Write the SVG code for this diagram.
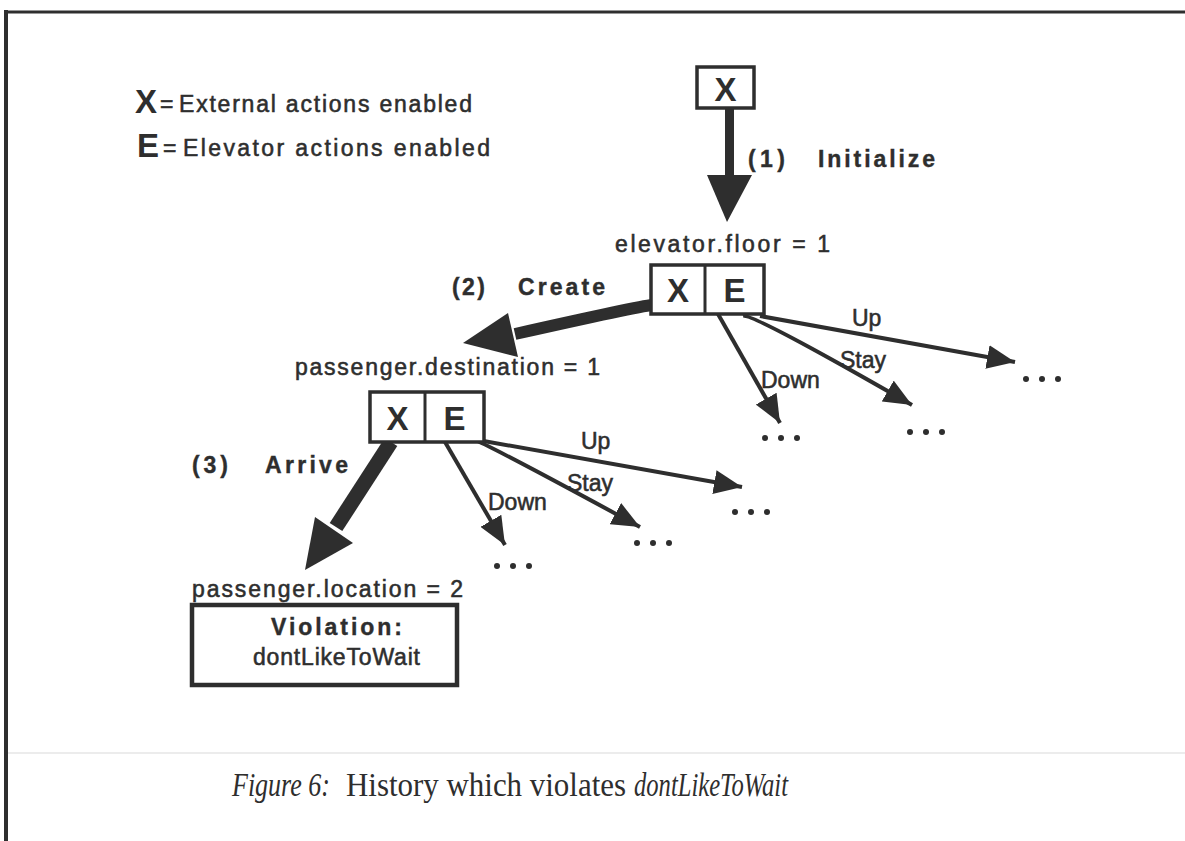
<svg xmlns="http://www.w3.org/2000/svg" width="1185" height="841" viewBox="0 0 1185 841">
  <defs>
    <style>
      .ink { fill: #2e2e2e; }
      .lbl { font-family: "Liberation Sans", Arial, Helvetica, sans-serif; font-size: 23px; fill: #2e2e2e; stroke: #2e2e2e; stroke-width: 0.55; }
      .bold { font-weight: bold; stroke-width: 0.4; }
      .key { font-family: "Liberation Sans", Arial, Helvetica, sans-serif; font-weight: bold; font-size: 33px; fill: #2e2e2e; }
      .box { fill: #ffffff; stroke: #2e2e2e; stroke-width: 3.5; }
      .thin { fill: none; stroke: #2e2e2e; stroke-width: 4; marker-end: url(#head); }
      .dots { fill: #2e2e2e; }
      .cap { font-family: "Liberation Serif", "Times New Roman", serif; font-size: 33px; fill: #2e2e2e; }
    </style>
    <marker id="head" viewBox="0 0 7 6" refX="7" refY="3" markerWidth="7" markerHeight="6" orient="auto" markerUnits="strokeWidth">
      <path d="M0,0 L7,3 L0,6 Z" fill="#2e2e2e"/>
    </marker>
    <g id="ellipsis">
      <circle cx="3" cy="0" r="3"/>
      <circle cx="19" cy="0" r="3"/>
      <circle cx="35" cy="0" r="3"/>
    </g>
  </defs>

  <rect width="1185" height="841" fill="#ffffff"/>

  <!-- page frame -->
  <g id="frame">
    <line x1="4" y1="12" x2="1185" y2="12" stroke="#2e2e2e" stroke-width="3"/>
    <line x1="6" y1="10" x2="6" y2="841" stroke="#2e2e2e" stroke-width="4"/>
    <line x1="8" y1="753" x2="1185" y2="753" stroke="#e6e6e6" stroke-width="1.5"/>
  </g>

  <!-- key -->
  <g id="legend">
    <text class="key" x="135" y="113" font-size="29">X</text>
    <text class="lbl" x="160" y="112" font-size="17">=</text>
    <text class="lbl" x="179" y="112" textLength="293" lengthAdjust="spacing">External actions enabled</text>
    <text class="key" x="137" y="157" font-size="29">E</text>
    <text class="lbl" x="163" y="156" font-size="17">=</text>
    <text class="lbl" x="183" y="156" textLength="307" lengthAdjust="spacing">Elevator actions enabled</text>
  </g>

  <!-- transitions -->
  <g id="connectors">
    <!-- (1) Initialize -->
    <g id="edge-initialize" class="ink">
      <rect x="725" y="108" width="9" height="69"/>
      <polygon points="707,175 752,175 727,222"/>
    </g>
    <!-- (2) Create -->
    <g id="edge-create" class="ink">
      <path d="M652,305 Q640,306 515,334" fill="none" stroke="#2e2e2e" stroke-width="12"/>
      <polygon points="463,343 508,313 518,357"/>
    </g>
    <!-- (3) Arrive -->
    <g id="edge-arrive" class="ink">
      <path d="M391,442 L336,527" fill="none" stroke="#2e2e2e" stroke-width="15"/>
      <polygon points="305,570 315,517 353,543"/>
    </g>

    <!-- elevator moves from the first state -->
    <path class="thin" d="M718,314 L780,423"/>
    <path class="thin" d="M743,316 Q752,313 912,405"/>
    <path class="thin" d="M760,316 L1015,362"/>

    <!-- elevator moves from the second state -->
    <path class="thin" d="M445,442 L505,545"/>
    <path class="thin" d="M474,440 Q480,440 640,527"/>
    <path class="thin" d="M478,440 L742,487"/>
  </g>

  <!-- transition labels -->
  <g id="edge-labels">
    <text class="lbl bold" x="748" y="167" textLength="37" lengthAdjust="spacing">(1)</text>
    <text class="lbl bold" x="818" y="167" textLength="117" lengthAdjust="spacing">Initialize</text>
    <text class="lbl bold" x="452" y="295" textLength="33" lengthAdjust="spacing">(2)</text>
    <text class="lbl bold" x="518" y="295" textLength="87" lengthAdjust="spacing">Create</text>
    <text class="lbl bold" x="192" y="473" textLength="36" lengthAdjust="spacing">(3)</text>
    <text class="lbl bold" x="265" y="473" textLength="83" lengthAdjust="spacing">Arrive</text>

    <text class="lbl" x="852" y="326">Up</text>
    <text class="lbl" x="840" y="368">Stay</text>
    <text class="lbl" x="761" y="388">Down</text>

    <text class="lbl" x="581" y="449">Up</text>
    <text class="lbl" x="567" y="491">Stay</text>
    <text class="lbl" x="488" y="510">Down</text>
  </g>

  <!-- states -->
  <g id="state-initial">
    <rect class="box" x="697" y="67" width="57" height="41"/>
    <text class="key" x="725.5" y="101" text-anchor="middle">X</text>
  </g>

  <g id="state-floor">
    <text class="lbl" x="615" y="252" textLength="215" lengthAdjust="spacing">elevator.floor = 1</text>
    <rect class="box" x="651" y="265" width="113" height="49"/>
    <line x1="705" y1="265" x2="705" y2="314" stroke="#2e2e2e" stroke-width="3"/>
    <text class="key" x="678" y="302" text-anchor="middle">X</text>
    <text class="key" x="734.5" y="302" text-anchor="middle">E</text>
  </g>

  <g id="state-destination">
    <text class="lbl" x="295" y="375" textLength="305" lengthAdjust="spacing">passenger.destination = 1</text>
    <rect class="box" x="370" y="392" width="114" height="50"/>
    <line x1="425" y1="392" x2="425" y2="442" stroke="#2e2e2e" stroke-width="3"/>
    <text class="key" x="397.5" y="430" text-anchor="middle">X</text>
    <text class="key" x="454.5" y="430" text-anchor="middle">E</text>
  </g>

  <g id="state-violation">
    <text class="lbl" x="192" y="597" textLength="271" lengthAdjust="spacing">passenger.location = 2</text>
    <rect x="192" y="605" width="265" height="80" fill="#ffffff" stroke="#2e2e2e" stroke-width="4.5"/>
    <text class="lbl bold" x="271" y="635" textLength="131" lengthAdjust="spacing">Violation:</text>
    <text class="lbl" x="253" y="665" textLength="167" lengthAdjust="spacing">dontLikeToWait</text>
  </g>

  <!-- unexplored successors -->
  <g id="more-floor-down" class="dots"><use href="#ellipsis" x="762" y="438"/></g>
  <g id="more-floor-stay" class="dots"><use href="#ellipsis" x="907" y="432"/></g>
  <g id="more-floor-up" class="dots"><use href="#ellipsis" x="1023" y="379"/></g>
  <g id="more-dest-down" class="dots"><use href="#ellipsis" x="494" y="566"/></g>
  <g id="more-dest-stay" class="dots"><use href="#ellipsis" x="634" y="543"/></g>
  <g id="more-dest-up" class="dots"><use href="#ellipsis" x="732" y="512"/></g>

  <!-- caption -->
  <g id="caption">
    <text class="cap" y="796">
      <tspan x="232" font-style="italic" textLength="98" lengthAdjust="spacingAndGlyphs">Figure 6:</tspan>
      <tspan x="346" textLength="280" lengthAdjust="spacingAndGlyphs">History which violates</tspan>
      <tspan x="634" font-style="italic" textLength="154" lengthAdjust="spacingAndGlyphs">dontLikeToWait</tspan>
    </text>
  </g>
</svg>
